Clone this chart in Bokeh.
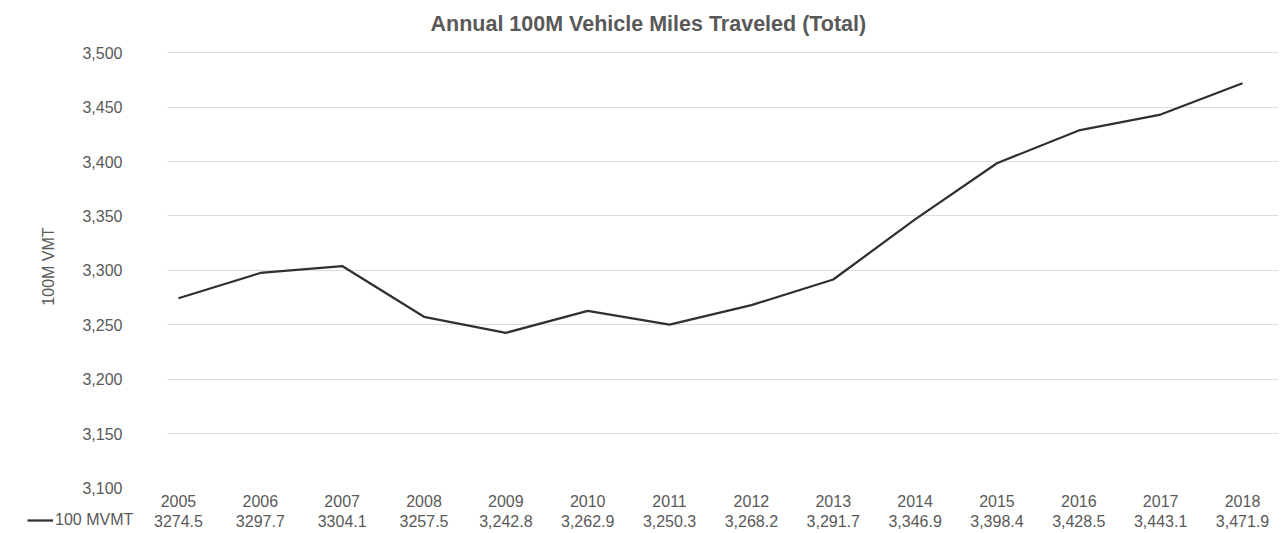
from bokeh.plotting import figure
from bokeh.layouts import column
from bokeh.models import (Range1d, LinearAxis, FixedTicker, NumeralTickFormatter, Title)
from bokeh.core.properties import value
from bokeh.embed import file_html
from bokeh.resources import INLINE

years = ["2005", "2006", "2007", "2008", "2009", "2010", "2011",
         "2012", "2013", "2014", "2015", "2016", "2017", "2018"]
vmt = [3274.5, 3297.7, 3304.1, 3257.5, 3242.8, 3262.9, 3250.3,
       3268.2, 3291.7, 3346.9, 3398.4, 3428.5, 3443.1, 3471.9]
value_labels = ["3274.5", "3297.7", "3304.1", "3257.5", "3,242.8", "3,262.9", "3,250.3",
                "3,268.2", "3,291.7", "3,346.9", "3,398.4", "3,428.5", "3,443.1", "3,471.9"]
y_ticks = [3100, 3150, 3200, 3250, 3300, 3350, 3400, 3450, 3500]
series_name = "100 MVMT"
title_text = "Annual 100M Vehicle Miles Traveled (Total)"
y_label = "100M VMT"

FONT = "Liberation Sans"
GREY = "#595959"
LINE = "#303030"
W = 1286
PX_PER_CAT = 81.85
X0 = -0.134          # x-range start of the main chart frame
FRAME_LEFT = 167

xs = list(range(len(years)))

# ---------------- main chart ----------------
p = figure(width=W, height=510, output_backend="svg", toolbar_location=None,
           x_axis_location=None,
           x_range=Range1d(X0, 13.44), y_range=Range1d(3099.9, 3507.4),
           min_border_left=FRAME_LEFT, min_border_right=8, min_border_top=44,
           min_border_bottom=22)
p.outline_line_color = None
p.background_fill_color = "white"
p.border_fill_color = "white"

p.line(xs, vmt, line_color=LINE, line_width=2.25)

ya = p.yaxis[0]
ya.ticker = FixedTicker(ticks=y_ticks)
ya.formatter = NumeralTickFormatter(format="0,0")
ya.axis_line_color = None
ya.major_tick_line_color = None
ya.minor_tick_line_color = None
ya.major_label_standoff = 39
ya.major_label_text_font = FONT
ya.major_label_text_font_size = "16px"
ya.major_label_text_color = GREY
ya.axis_label = y_label
ya.axis_label_text_font = FONT
ya.axis_label_text_font_size = "16px"
ya.axis_label_text_font_style = "normal"
ya.axis_label_text_color = GREY
ya.axis_label_standoff = 22

p.ygrid.ticker = FixedTicker(ticks=y_ticks[1:])
p.ygrid.grid_line_color = "#dcdcdc"
p.ygrid.grid_line_width = 1
p.xgrid.visible = False

xax = LinearAxis(ticker=FixedTicker(ticks=xs),
                 major_label_overrides={i: years[i] for i in xs})
xax.axis_line_color = None
xax.major_tick_line_color = None
xax.minor_tick_line_color = None
xax.major_label_standoff = 0
xax.major_label_text_font = FONT
xax.major_label_text_font_size = "16px"
xax.major_label_text_color = GREY
p.add_layout(xax, "below")

p.title = Title(text=title_text, align="left", offset=263, standoff=17, text_font=FONT,
                text_font_size="21.5px", text_font_style="bold", text_color=GREY)

# ---------------- data-table row (values + legend) ----------------
H2 = 23
t_start = X0 - FRAME_LEFT / PX_PER_CAT
t_end = t_start + W / PX_PER_CAT
t = figure(width=W, height=H2, output_backend="svg", toolbar_location=None,
           x_axis_location=None, y_axis_location=None,
           x_range=Range1d(t_start, t_end), y_range=Range1d(0, H2),
           min_border_left=0, min_border_right=0, min_border_top=0, min_border_bottom=0)
t.frame_align = False
t.outline_line_color = None
t.background_fill_color = "white"
t.border_fill_color = "white"
t.xgrid.visible = False
t.ygrid.visible = False

t.text(x=xs, y=13, text=value_labels, text_align="center", text_baseline="middle",
       text_font=value(FONT), text_font_size="16px", text_color=GREY)
# same series (its values lie far outside this strip's range); only its legend entry shows
t.line(x=xs, y=vmt, line_color=LINE, line_width=2.25, legend_label=series_name)

lg = t.legend[0]
lg.location = (27, 3)
lg.padding = 0
lg.margin = 0
lg.border_line_color = None
lg.background_fill_alpha = 0
lg.glyph_width = 26
lg.glyph_height = 20
lg.label_height = 20
lg.label_standoff = 2
lg.label_text_font = FONT
lg.label_text_font_size = "16px"
lg.label_text_color = GREY

layout = column(p, t, spacing=0)
open("out.html", "w").write(file_html(layout, INLINE))
